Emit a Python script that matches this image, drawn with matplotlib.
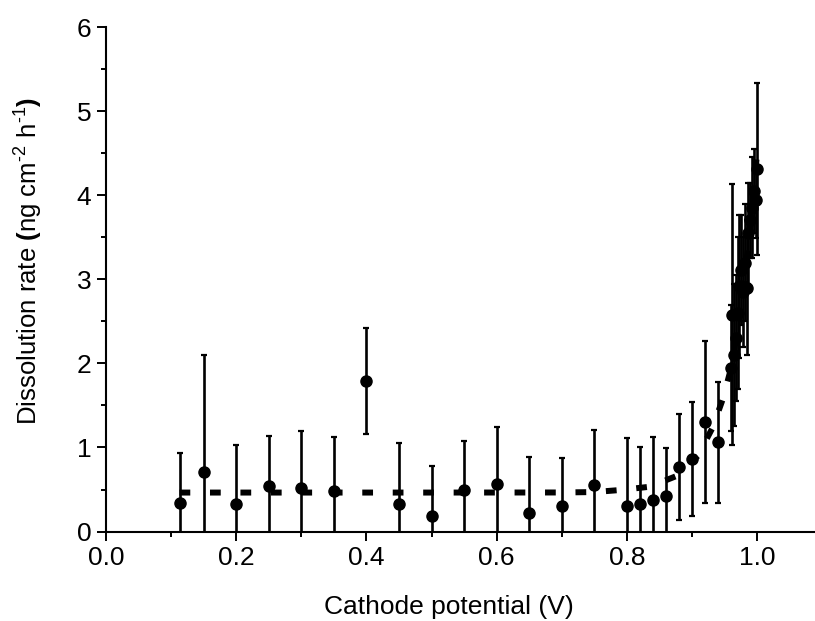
import matplotlib
matplotlib.use("Agg")
import matplotlib.pyplot as plt
from matplotlib.ticker import MultipleLocator

plt.rcParams['font.family'] = ['Liberation Sans', 'DejaVu Sans']
plt.rcParams['mathtext.fontset'] = 'custom'
plt.rcParams['mathtext.rm'] = 'Liberation Sans'
plt.rcParams['mathtext.it'] = 'Liberation Sans:italic'
plt.rcParams['mathtext.bf'] = 'Liberation Sans:bold'

# measured points (low-potential region)
x_lo = [0.113, 0.15, 0.20, 0.25, 0.30, 0.35, 0.40, 0.45, 0.50, 0.55, 0.60, 0.65,
        0.70, 0.75, 0.80, 0.82, 0.84, 0.86, 0.88, 0.90, 0.92, 0.94]
y_lo = [0.34, 0.71, 0.325, 0.54, 0.515, 0.48, 1.79, 0.325, 0.186, 0.50, 0.56, 0.218,
        0.305, 0.551, 0.30, 0.33, 0.376, 0.424, 0.765, 0.864, 1.305, 1.06]
e_lo = [0.60, 1.39, 0.71, 0.60, 0.68, 0.64, 0.63, 0.73, 0.59, 0.575, 0.685, 0.67,
        0.57, 0.66, 0.81, 0.68, 0.75, 0.57, 0.63, 0.68, 0.96, 0.72]

# measured points (high-potential cluster)
x_hi = [0.960, 0.961, 0.964, 0.967, 0.970, 0.972, 0.975, 0.978, 0.981, 0.984,
        0.986, 0.989, 0.992, 0.995, 0.998, 1.000]
y_hi = [1.95, 2.58, 2.10, 2.30, 2.60, 2.92, 3.11, 2.85, 3.20, 2.90,
        3.55, 3.70, 3.85, 4.05, 3.94, 4.31]
e_hi = [0.75, 1.55, 0.85, 0.75, 0.90, 0.85, 0.65, 0.65, 0.70, 0.80,
        0.60, 0.45, 0.60, 0.50, 0.45, 1.02]

# fitted curve
fit_x = [0.113, 0.30, 0.50, 0.70, 0.75, 0.789, 0.835, 0.876, 0.909, 0.932,
         0.948, 0.960, 0.970, 0.980, 0.990, 1.000]
fit_y = [0.464, 0.464, 0.464, 0.465, 0.470, 0.494, 0.533, 0.66, 0.90, 1.24,
         1.59, 1.94, 2.40, 2.95, 3.65, 4.50]

x_all = x_lo + x_hi
y_all = y_lo + y_hi
e_all = e_lo + e_hi

fig = plt.figure(figsize=(8.15, 6.21), dpi=100)
ax = fig.add_axes([0.130, 0.144, 0.870, 0.8124])

line, = ax.plot(fit_x, fit_y, color='black', lw=4.3, zorder=2,
                solid_capstyle='butt', dash_capstyle='butt')
line.set_dashes((1.8, 3.3))

ax.errorbar(x_all, y_all, yerr=e_all, fmt='o', color='black', ms=8,
            elinewidth=1.9, capsize=2.4, capthick=1.6, zorder=3)

ax.set_xlim(0, 1.089)
ax.set_ylim(0, 6)
ax.xaxis.set_major_locator(MultipleLocator(0.2))
ax.xaxis.set_minor_locator(MultipleLocator(0.1))
ax.yaxis.set_major_locator(MultipleLocator(1))
ax.yaxis.set_minor_locator(MultipleLocator(0.5))
ax.xaxis.set_major_formatter(matplotlib.ticker.FormatStrFormatter('%.1f'))

for s in ['top', 'right']:
    ax.spines[s].set_visible(False)
for s in ['left', 'bottom']:
    ax.spines[s].set_linewidth(1.5)

ax.tick_params(which='major', direction='out', length=6.5, width=1.4,
               labelsize=19, pad=4)
ax.tick_params(which='minor', direction='out', length=3.6, width=1.4)

ax.set_xlabel('Cathode potential (V)', fontsize=19)
ax.set_ylabel(r'Dissolution rate $\mathbf{(}$ng cm$^{\text{-}2}$ h$^{\text{-}1}$$\mathbf{)}$',
              fontsize=18.5)
ax.xaxis.set_label_coords(0.484, -0.149)
ax.xaxis.label.set_va('center')
ax.yaxis.set_label_coords(-0.109, 0.536)
ax.yaxis.label.set_va('center')

fig.savefig('out.png', dpi=100)
